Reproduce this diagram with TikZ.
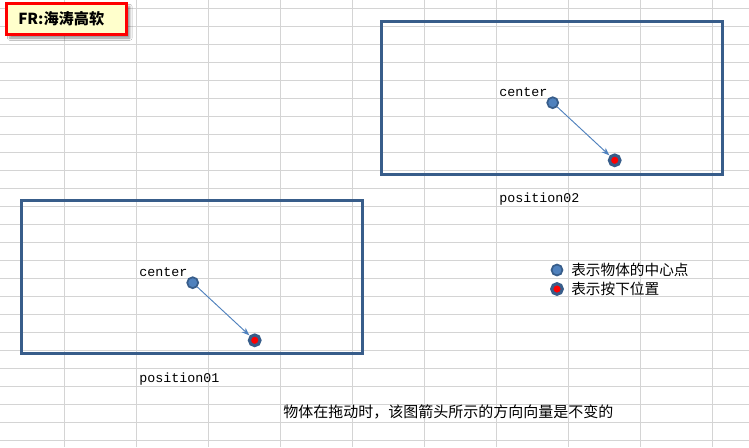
\documentclass[tikz,border=0pt]{standalone}
\usepackage{fontspec}
\usetikzlibrary{arrows.meta,shadows.blur}
\newfontfamily\cjk{Noto Sans CJK SC}
\newfontfamily\mono{Liberation Mono}
\definecolor{gridc}{RGB}{212,212,212}
\definecolor{frameblue}{RGB}{56,93,138}
\definecolor{dotblue}{RGB}{79,129,189}
\definecolor{titlefill}{RGB}{255,255,204}
\definecolor{titlered}{RGB}{255,0,0}
\begin{document}
\begin{tikzpicture}[x=0.75pt,y=-0.75pt,
  gridline/.style={draw=gridc,line width=0.75pt},
  framebox/.style={draw=frameblue,line width=2.25pt,minimum width=255.75pt,minimum height=114.4pt,inner sep=0pt},
  cdot/.style={circle,fill=dotblue,draw=frameblue,line width=1.3pt,minimum size=8.2pt,inner sep=0pt},
  pdot/.style={circle,fill=red,draw=frameblue,line width=2.3pt,minimum size=8pt,inner sep=0pt},
  vec/.style={draw=dotblue,line width=0.7pt,-{Stealth[length=6pt,width=4.5pt]},shorten >=0.3pt},
  monotext/.style={font=\mono\fontsize{10}{12}\selectfont,inner sep=0pt},
  cjktext/.style={font=\cjk\fontsize{11}{13}\selectfont,inner sep=0pt},
  titlebox/.style={draw=titlered,line width=2.4pt,fill=titlefill,minimum width=90pt,minimum height=23.5pt,inner sep=0pt,
    blur shadow={shadow xshift=2.5pt,shadow yshift=-2.5pt,shadow blur steps=6,shadow opacity=45}}
]
\useasboundingbox (0,0) rectangle (749,447);
\fill[white] (0,0) rectangle (749,447);
\foreach \i in {0,...,9} \draw[gridline] ({64.3+72*\i},0) -- ({64.3+72*\i},447);
\foreach \j in {0,...,24} \draw[gridline] (0,{8.3+18*\j}) -- (749,{8.3+18*\j});

% title
\node[titlebox] (title) at (66.5,19) {};
\node[anchor=west,font=\cjk\bfseries\fontsize{11.4}{13}\selectfont,inner sep=0pt] (titletext) at (18,18.5) {FR:海涛高软};

% frames
\node[framebox] (box1) at (551.5,97.75) {};
\node[framebox] (box2) at (191.5,277.25) {};

% dots and vectors
\node[cdot] (c1) at (552.7,102.7) {};
\node[pdot] (p1) at (614.7,160.3) {};
\draw[vec] (c1) -- (p1);
\node[cdot] (c2) at (192.7,282.7) {};
\node[pdot] (p2) at (254.7,340.3) {};
\draw[vec] (c2) -- (p2);

% labels
\node[monotext,anchor=base west] (lc1) at (499,96) {center};
\node[monotext,anchor=base west] (lc2) at (139,276) {center};
\node[monotext,anchor=base west] (lp2) at (499,202) {position02};
\node[monotext,anchor=base west] (lp1) at (139,382) {position01};

% legend
\node[cdot] (lgc) at (557,270) {};
\node[pdot] (lgp) at (557,289) {};
\node[cjktext,anchor=west] (lgct) at (571,270) {表示物体的中心点};
\node[cjktext,anchor=west] (lgpt) at (571,289) {表示按下位置};

% note
\node[cjktext,anchor=west,font=\cjk\fontsize{11.25}{13}\selectfont] (note) at (283,412) {物体在拖动时，该图箭头所示的方向向量是不变的};
\end{tikzpicture}
\end{document}
